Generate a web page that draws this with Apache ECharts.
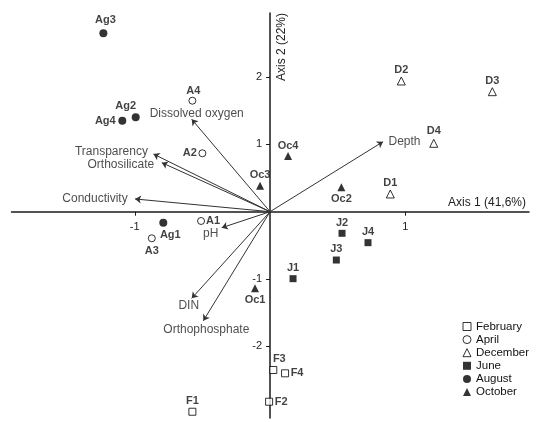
<!DOCTYPE html>
<html><head><meta charset="utf-8">
<script src="https://cdn.jsdelivr.net/npm/echarts@6/dist/echarts.min.js"></script>
<style>html,body{margin:0;padding:0;background:#fff}#c{width:536px;height:422px}</style>
</head><body><div id="c"></div>
<script>
// ---- data ----
const months = ['February', 'April', 'December', 'June', 'August', 'October'];

const februaryNames = ['F1', 'F2', 'F3', 'F4'];
const februaryX = [-0.574, -0.007, 0.024, 0.111];
const februaryY = [-2.972, -2.823, -2.352, -2.401];

const aprilNames = ['A1', 'A2', 'A3', 'A4'];
const aprilX = [-0.510, -0.500, -0.874, -0.574];
const aprilY = [-0.138, 0.868, -0.395, 1.649];

const decemberNames = ['D1', 'D2', 'D3', 'D4'];
const decemberX = [0.889, 0.970, 1.643, 1.210];
const decemberY = [0.263, 1.942, 1.783, 1.016];

const juneNames = ['J1', 'J2', 'J3', 'J4'];
const juneX = [0.170, 0.532, 0.490, 0.724];
const juneY = [-0.995, -0.321, -0.718, -0.460];

const augustNames = ['Ag1', 'Ag2', 'Ag3', 'Ag4'];
const augustX = [-0.789, -0.993, -1.232, -1.092];
const augustY = [-0.163, 1.403, 2.651, 1.352];

const octoberNames = ['Oc1', 'Oc2', 'Oc3', 'Oc4'];
const octoberX = [-0.111, 0.527, -0.074, 0.133];
const octoberY = [-1.138, 0.362, 0.386, 0.828];

const variableNames = ['Dissolved oxygen', 'Transparency', 'Orthosilicate', 'Conductivity', 'Depth', 'pH', 'DIN', 'Orthophosphate'];
const variableX = [-0.579, -0.862, -0.800, -0.998, 0.835, -0.357, -0.579, -0.493];
const variableY = [1.373, 0.857, 0.728, 0.189, 1.040, -0.238, -1.287, -1.620];

const xTickValues = [-1, 1];
const yTickValues = [-2, -1, 1, 2];
const xAxisTitle = 'Axis 1 (41,6%)';
const yAxisTitle = 'Axis 2 (22%)';

// ---- styles (label offsets in px, not data) ----
const pointLabelOffset = {
  F1: [0, -11], F2: [12, 0], F3: [6, -11], F4: [12, 0],
  A1: [12, 0], A2: [-12.5, 0], A3: [0, 12.5], A4: [1, -10],
  D1: [0, -11], D2: [0, -11], D3: [0, -11], D4: [0, -12],
  J1: [0, -10.5], J2: [0, -10], J3: [0, -11], J4: [0, -10.5],
  Ag1: [7, 12], Ag2: [-10, -11], Ag3: [2, -13], Ag4: [-17, 0],
  Oc1: [0, 12], Oc2: [0, 12], Oc3: [0, -11], Oc4: [0, -10]
};
const variableLabelOffset = {
  'Dissolved oxygen': [5, -5.5], 'Transparency': [-42, -2], 'Orthosilicate': [-41, 2],
  'Conductivity': [-40, 0], 'Depth': [21.5, 0], 'pH': [-11, 6], 'DIN': [-3, 7], 'Orthophosphate': [3, 9]
};
const FONT = "Arial, 'Liberation Sans', sans-serif";
const GRID = { left: 11.5, top: 13, width: 517.5, height: 405 };
const X_MIN = -1.911, X_MAX = 1.914, Y_MIN = -3.065, Y_MAX = 2.952;
// place axes through the origin using offsets from grid edges
const xAxisOffset = -(GRID.height * (0 - Y_MIN) / (Y_MAX - Y_MIN));
const yAxisOffset = -(GRID.width * (0 - X_MIN) / (X_MAX - X_MIN));

function pts(names, xs, ys) {
  return names.map((n, i) => ({
    name: n, value: [xs[i], ys[i]],
    label: { offset: pointLabelOffset[n] }
  }));
}
function monthSeries(name, names, xs, ys, symbol, size, empty) {
  return {
    name: name, type: 'scatter', symbol: symbol, symbolSize: size,
    data: pts(names, xs, ys),
    itemStyle: empty ? { color: '#fff', borderColor: '#000', borderWidth: 1 } : { color: '#000' },
    label: {
      show: true, formatter: '{b}', position: 'inside', color: '#111',
      fontFamily: FONT, fontSize: 11, fontWeight: 'bold', align: 'center', verticalAlign: 'middle'
    },
    emphasis: { disabled: true }, z: 5
  };
}

const chart = echarts.init(document.getElementById('c'), null, { renderer: 'canvas' });
chart.setOption({
  animation: false,
  backgroundColor: '#fff',
  textStyle: { fontFamily: FONT },
  grid: Object.assign({ outerBoundsMode: 'none', containLabel: false }, GRID),
  xAxis: {
    type: 'value', min: X_MIN, max: X_MAX, position: 'bottom', offset: xAxisOffset,
    splitLine: { show: false },
    axisLine: { show: true, onZero: false, lineStyle: { color: '#1a1a1a', width: 1.5 } },
    axisTick: { show: true, customValues: xTickValues, length: 4, lineStyle: { color: '#1a1a1a' } },
    axisLabel: { show: true, customValues: xTickValues, color: '#222', fontSize: 11, margin: 10, fontFamily: FONT }
  },
  yAxis: {
    type: 'value', min: Y_MIN, max: Y_MAX, position: 'left', offset: yAxisOffset,
    splitLine: { show: false },
    axisLine: { show: true, onZero: false, lineStyle: { color: '#1a1a1a', width: 1.5 } },
    axisTick: { show: true, customValues: yTickValues, length: 4, lineStyle: { color: '#1a1a1a' } },
    axisLabel: { show: true, customValues: yTickValues, color: '#222', fontSize: 11, margin: 8, fontFamily: FONT }
  },
  legend: {
    orient: 'vertical', left: 462.5, top: 320.5, padding: 0,
    itemWidth: 8, itemHeight: 8, itemGap: 1.1,
    itemStyle: { borderWidth: 1 },
    textStyle: { fontSize: 11.5, lineHeight: 12, color: '#111', fontFamily: FONT },
    data: months, selectedMode: false
  },
  graphic: [
    { type: 'text', x: 526, y: 203, style: { text: xAxisTitle, fill: '#222', font: '12px ' + FONT, textAlign: 'right', textVerticalAlign: 'middle' } },
    { type: 'text', x: 281.5, y: 47, rotation: Math.PI / 2, style: { text: yAxisTitle, fill: '#222', font: '12px ' + FONT, textAlign: 'center', textVerticalAlign: 'middle' } }
  ],
  series: [
    {
      type: 'lines', coordinateSystem: 'cartesian2d', silent: true,
      symbol: ['none', 'arrow'], symbolSize: 6,
      lineStyle: { color: '#333', width: 1, opacity: 1, curveness: 0 },
      data: variableNames.map((n, i) => ({ coords: [[0, 0], [variableX[i], variableY[i]]] })),
      z: 3
    },
    {
      type: 'scatter', symbolSize: 0.1, silent: true,
      itemStyle: { color: 'rgba(0,0,0,0)' },
      data: variableNames.map((n, i) => ({ name: n, value: [variableX[i], variableY[i]], label: { offset: variableLabelOffset[n] } })),
      label: { show: true, formatter: '{b}', position: 'inside', color: '#222', fontFamily: FONT, fontSize: 12, align: 'center', verticalAlign: 'middle' },
      z: 4
    },
    monthSeries('February', februaryNames, februaryX, februaryY, 'rect', 7, true),
    monthSeries('April', aprilNames, aprilX, aprilY, 'circle', 7, true),
    monthSeries('December', decemberNames, decemberX, decemberY, 'triangle', 8, true),
    monthSeries('June', juneNames, juneX, juneY, 'rect', 7, false),
    monthSeries('August', augustNames, augustX, augustY, 'circle', 8, false),
    monthSeries('October', octoberNames, octoberX, octoberY, 'triangle', 8, false)
  ]
});
</script></body></html>
